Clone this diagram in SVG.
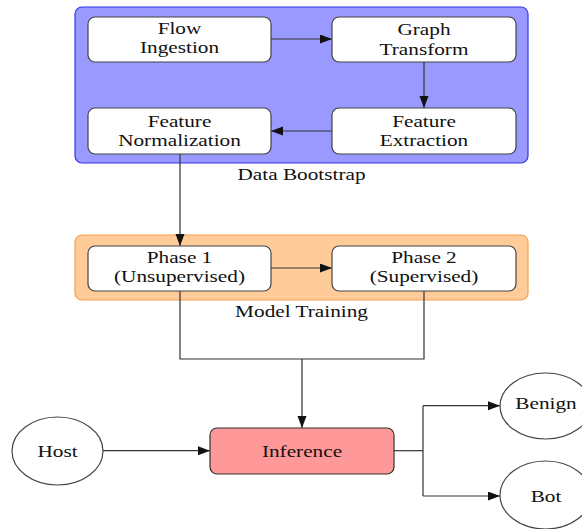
<svg xmlns="http://www.w3.org/2000/svg" width="582" height="529" viewBox="0 0 582 529">
<defs>
<marker id="arr" markerUnits="userSpaceOnUse" markerWidth="13" markerHeight="10" refX="12" refY="4.5" orient="auto">
<path d="M0,0 L12,4.5 L0,9 Z" fill="#111"/>
</marker>
</defs>
<style>
text{font-family:"Liberation Serif","Times New Roman",serif;font-size:17px;fill:#111;text-anchor:middle}
.node{fill:#fff;stroke:#444;stroke-width:1.2}
.edge{fill:none;stroke:#333;stroke-width:1.2}
</style>
<rect width="582" height="529" fill="#fff"/>
<g id="data-bootstrap">
<rect x="75" y="7" width="453" height="156" rx="7" fill="#9999ff" stroke="#3333ee" stroke-width="1.2"/>
<text transform="translate(301.5,180) scale(1.25,1)">Data Bootstrap</text>
</g>
<g id="model-training">
<rect x="75" y="235" width="453" height="65" rx="7" fill="#ffcc99" stroke="#f5a04a" stroke-width="1.2"/>
<text transform="translate(301.5,317) scale(1.25,1)">Model Training</text>
</g>
<g id="connectors">
<path class="edge" d="M271,39 H332" marker-end="url(#arr)"/>
<path class="edge" d="M424,62 V108" marker-end="url(#arr)"/>
<path class="edge" d="M332,131 H271" marker-end="url(#arr)"/>
<path class="edge" d="M180,154 V246" marker-end="url(#arr)"/>
<path class="edge" d="M271,268 H332" marker-end="url(#arr)"/>
<path class="edge" d="M180,291 V359 H424 V291"/>
<path class="edge" d="M302,359 V428" marker-end="url(#arr)"/>
<path class="edge" d="M103,450.7 H210" marker-end="url(#arr)"/>
<path class="edge" d="M394,450.7 H423"/>
<path class="edge" d="M423,405.7 V496"/>
<path class="edge" d="M423,405.7 H500" marker-end="url(#arr)"/>
<path class="edge" d="M423,496 H500" marker-end="url(#arr)"/>
</g>
<g id="flow-ingestion">
<rect class="node" x="88" y="17" width="183" height="45" rx="7"/>
<text transform="translate(179.5,34) scale(1.25,1)">Flow</text>
<text transform="translate(179.5,53) scale(1.25,1)">Ingestion</text>
</g>
<g id="graph-transform">
<rect class="node" x="332" y="17" width="184" height="45" rx="7"/>
<text transform="translate(424,35) scale(1.25,1)">Graph</text>
<text transform="translate(424,54.5) scale(1.25,1)">Transform</text>
</g>
<g id="feature-normalization">
<rect class="node" x="88" y="108" width="183" height="46" rx="7"/>
<text transform="translate(179.5,127) scale(1.25,1)">Feature</text>
<text transform="translate(179.5,146) scale(1.25,1)">Normalization</text>
</g>
<g id="feature-extraction">
<rect class="node" x="332" y="108" width="184" height="46" rx="7"/>
<text transform="translate(424,127) scale(1.25,1)">Feature</text>
<text transform="translate(424,146) scale(1.25,1)">Extraction</text>
</g>
<g id="phase-1">
<rect class="node" x="88" y="246" width="183" height="45" rx="7"/>
<text transform="translate(179.5,263) scale(1.25,1)">Phase 1</text>
<text transform="translate(179.5,282) scale(1.25,1)">(Unsupervised)</text>
</g>
<g id="phase-2">
<rect class="node" x="332" y="246" width="184" height="45" rx="7"/>
<text transform="translate(424,263) scale(1.25,1)">Phase 2</text>
<text transform="translate(424,282) scale(1.25,1)">(Supervised)</text>
</g>
<g id="inference">
<rect x="210" y="428" width="184" height="46" rx="7" fill="#ff9999" stroke="#333" stroke-width="1.2"/>
<text transform="translate(302,457) scale(1.25,1)">Inference</text>
</g>
<g id="host">
<ellipse class="node" cx="57.5" cy="451" rx="45.5" ry="34"/>
<text transform="translate(57.5,457) scale(1.25,1)">Host</text>
</g>
<g id="benign">
<ellipse class="node" cx="545.5" cy="406" rx="45.5" ry="33"/>
<text transform="translate(546,409) scale(1.25,1)">Benign</text>
</g>
<g id="bot">
<ellipse class="node" cx="545.5" cy="495" rx="45.5" ry="34"/>
<text transform="translate(546,501.5) scale(1.25,1)">Bot</text>
</g>
</svg>
